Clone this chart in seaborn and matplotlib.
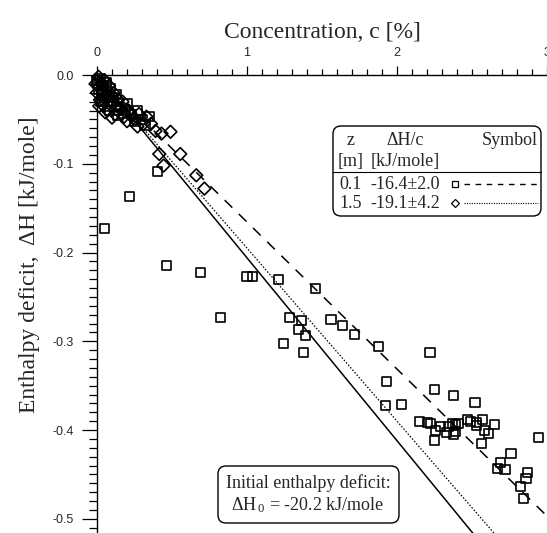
import numpy as np
import pandas as pd
import matplotlib
matplotlib.use("Agg")
import matplotlib.pyplot as plt
import seaborn as sns
from matplotlib.ticker import MultipleLocator, FixedLocator, FixedFormatter
from matplotlib.patches import FancyBboxPatch

# ---------------- data ----------------
# z = 0.1 m  (squares)
sq_c = [0.00, 0.01, 0.02, 0.03, 0.04, 0.05, 0.06, 0.07, 0.08, 0.09, 0.10, 0.12, 0.13, 0.15,
        0.17, 0.20, 0.23, 0.27, 0.30,
        0.005, 0.025, 0.045, 0.065, 0.085, 0.11, 0.14, 0.19, 0.25, 0.32, 0.35,
        0.404, 0.047, 0.215, 0.462, 0.689, 0.822, 1.000, 1.038, 1.213, 1.282, 1.365, 1.345,
        1.387, 1.245, 1.378, 1.458, 1.560, 1.635, 1.718, 1.876, 2.220, 1.927, 2.253, 2.378,
        2.520, 1.922, 2.033,
        2.149, 2.204, 2.222, 2.256, 2.293, 2.249, 2.345, 2.367, 2.389, 2.411, 2.333, 2.378,
        2.389, 2.467, 2.493, 2.527, 2.571, 2.527, 2.582, 2.609, 2.653, 2.564,
        2.944, 2.760, 2.693, 2.720, 2.671, 2.867, 2.860, 2.822, 2.845]
sq_H = [-0.006, -0.016, -0.004, -0.022, -0.012, -0.030, -0.018, -0.036, -0.024, -0.015, -0.030,
        -0.040, -0.022, -0.035, -0.043, -0.032, -0.045, -0.040, -0.050,
        -0.010, -0.030, -0.020, -0.008, -0.040, -0.025, -0.046, -0.040, -0.052, -0.057, -0.047,
        -0.109, -0.173, -0.137, -0.215, -0.222, -0.273, -0.227, -0.227, -0.230, -0.273, -0.277,
        -0.287, -0.294, -0.303, -0.313, -0.240, -0.275, -0.282, -0.292, -0.306, -0.313, -0.345,
        -0.354, -0.361, -0.369, -0.372, -0.371,
        -0.390, -0.391, -0.393, -0.401, -0.396, -0.412, -0.396, -0.393, -0.394, -0.393, -0.403,
        -0.405, -0.402, -0.388, -0.390, -0.392, -0.388, -0.395, -0.400, -0.404, -0.394, -0.415,
        -0.408, -0.426, -0.437, -0.445, -0.443, -0.448, -0.455, -0.464, -0.477]

# z = 1.5 m  (diamonds)
dm_c = [-0.01, 0.00, 0.01, 0.02, 0.03, 0.04, 0.05, 0.06, 0.07, 0.08, 0.09, 0.11, 0.12, 0.14,
        0.16, 0.18, 0.21, 0.25, 0.28, 0.31, 0.33,
        0.015, 0.035, 0.055, 0.075, 0.10, 0.13, 0.17, 0.20, 0.23, 0.27, 0.36,
        0.39, 0.43, 0.49, 0.415, 0.555, 0.444, 0.662, 0.716]
dm_H = [-0.010, -0.020, -0.002, -0.028, -0.010, -0.034, -0.006, -0.025, -0.040, -0.012, -0.030,
        -0.020, -0.044, -0.028, -0.038, -0.047, -0.040, -0.050, -0.044, -0.055, -0.047,
        -0.035, -0.018, -0.042, -0.022, -0.048, -0.035, -0.030, -0.052, -0.045, -0.058, -0.055,
        -0.063, -0.066, -0.064, -0.089, -0.089, -0.102, -0.113, -0.128]

# straight lines (end points)
line_c = [0.0, 3.0]
initial_H = [0.0, -0.618]   # initial enthalpy deficit, -20.2 kJ/mole
z01_H = [0.0, -0.497]       # z = 0.1 m fit
z15_H = [0.0, -0.585]       # z = 1.5 m fit

legend_z = ["0.1", "1.5"]
legend_dHc = ["-16.4\u00b12.0", "-19.1\u00b14.2"]

x_ticks = [0, 1, 2, 3]
x_ticklabels = ["0", "1", "2", "3"]
y_ticks = [0.0, -0.1, -0.2, -0.3, -0.4, -0.5]
y_ticklabels = ["0.0", "-0.1", "-0.2", "-0.3", "-0.4", "-0.5"]

# ---------------- style ----------------
sns.set_style("ticks")
SERIF = ["Liberation Serif", "DejaVu Serif"]
SANS = ["Liberation Sans", "DejaVu Sans"]
plt.rcParams["font.family"] = SERIF
plt.rcParams["axes.unicode_minus"] = False
plt.rcParams["mathtext.fontset"] = "custom"
plt.rcParams["mathtext.rm"] = "Liberation Serif"
plt.rcParams["mathtext.default"] = "regular"

W, H = 547, 533
fig = plt.figure(figsize=(W / 100, H / 100), dpi=100)
fig.patch.set_facecolor("white")

ax = fig.add_axes([97 / W, 0, 450 / W, 458 / H])
ax.set_facecolor("white")

sns.lineplot(x=line_c, y=initial_H, color="black", lw=1.1, ax=ax,
             estimator=None, sort=False, zorder=2)
sns.lineplot(x=line_c, y=z01_H, color="black", lw=1.1, ax=ax,
             estimator=None, sort=False, linestyle=(0, (7, 6)), zorder=2)
sns.lineplot(x=line_c, y=z15_H, color="black", lw=0.9, ax=ax,
             estimator=None, sort=False, linestyle=(0, (1.2, 1.4)), zorder=2)

sns.scatterplot(x=sq_c, y=sq_H, marker="s", s=42, facecolor="none", edgecolor="black",
                linewidth=1.2, ax=ax, clip_on=False, zorder=3)
sns.scatterplot(x=dm_c, y=dm_H, marker="D", s=42, facecolor="none", edgecolor="black",
                linewidth=1.2, ax=ax, clip_on=False, zorder=3)

ax.set_xlim(0, 3)
ax.set_ylim(-0.516, 0)

for s in ["right", "bottom"]:
    ax.spines[s].set_visible(False)
for s in ["left", "top"]:
    ax.spines[s].set_linewidth(1.0)
    ax.spines[s].set_color("black")

ax.xaxis.set_major_locator(FixedLocator(x_ticks))
ax.xaxis.set_major_formatter(FixedFormatter(x_ticklabels))
ax.xaxis.set_minor_locator(MultipleLocator(0.1))
ax.yaxis.set_major_locator(FixedLocator(y_ticks))
ax.yaxis.set_major_formatter(FixedFormatter(y_ticklabels))
ax.yaxis.set_minor_locator(MultipleLocator(0.01))

ax.xaxis.tick_top()
ax.xaxis.set_label_position("top")
ax.tick_params(axis="x", which="both", top=True, bottom=False, labeltop=True,
               labelbottom=False, direction="out", color="black")
ax.tick_params(axis="x", which="major", length=6.5, width=0.9, pad=5)
ax.tick_params(axis="x", which="minor", length=4.3, width=0.9)
ax.tick_params(axis="y", which="both", direction="out", color="black")
ax.tick_params(axis="y", which="major", length=10.8, width=0.9, pad=6)
ax.tick_params(axis="y", which="minor", length=5.5, width=0.9)
for lab in ax.get_xticklabels() + ax.get_yticklabels():
    lab.set_family(SANS)
    lab.set_fontsize(9)

ax.set_xlabel("Concentration, c [%]", fontsize=17, family=SERIF)
ax.xaxis.set_label_coords(0.5, (533 - 38) / 458)
ax.set_ylabel("Enthalpy deficit,  \u0394H [kJ/mole]", fontsize=17, family=SERIF)
ax.yaxis.set_label_coords((40 - 97) / 450, (533 - 265) / 458)

# ---------------- overlay in pixel coordinates ----------------
ov = fig.add_axes([0, 0, 1, 1], zorder=5)
ov.set_xlim(0, W)
ov.set_ylim(H, 0)
ov.axis("off")
ov.patch.set_alpha(0)

# legend table
bx0, bx1, by0, by1 = 333, 541, 126, 216
ov.add_patch(FancyBboxPatch((bx0, by0), bx1 - bx0, by1 - by0,
                            boxstyle="round,pad=0,rounding_size=8",
                            fc="white", ec="black", lw=1.0))
fs = 13
col_z, col_d = 351, 405
ov.text(col_z, 145, "z", ha="center", va="baseline", fontsize=fs)
ov.text(col_d, 145, "\u0394H/c", ha="center", va="baseline", fontsize=fs)
ov.text(538, 145, "Symbol", ha="right", va="baseline", fontsize=fs)
ov.text(col_z, 166, "[m]", ha="center", va="baseline", fontsize=fs)
ov.text(col_d, 166, "[kJ/mole]", ha="center", va="baseline", fontsize=fs)
ov.plot([bx0, bx1], [172, 172], color="black", lw=0.8)
row_y = [189, 208]
styles = [("s", (0, (4, 4)), 1.0), ("D", (0, (1, 1.2)), 0.8)]
for i in range(2):
    ov.text(col_z, row_y[i], legend_z[i], ha="center", va="baseline", fontsize=fs)
    ov.text(col_d, row_y[i], legend_dHc[i], ha="center", va="baseline", fontsize=fs)
    mk, ls, lw = styles[i]
    ov.plot([455], [row_y[i] - 5], marker=mk, ms=5 if mk == "s" else 4.5, mfc="white",
            mec="black", mew=0.9)
    ov.plot([464, 538], [row_y[i] - 5] * 2, color="black", lw=lw, linestyle=ls)

# initial enthalpy deficit box
ov.add_patch(FancyBboxPatch((218, 466), 399 - 218, 523 - 466,
                            boxstyle="round,pad=0,rounding_size=8",
                            fc="white", ec="black", lw=1.0))
ov.text(308, 488, "Initial enthalpy deficit:", ha="center", va="baseline", fontsize=13)
ov.text(308, 510, "\u0394H$_{\\,0}$ = -20.2 kJ/mole", ha="center", va="baseline", fontsize=13)

fig.savefig("out.png", dpi=100, facecolor="white")
